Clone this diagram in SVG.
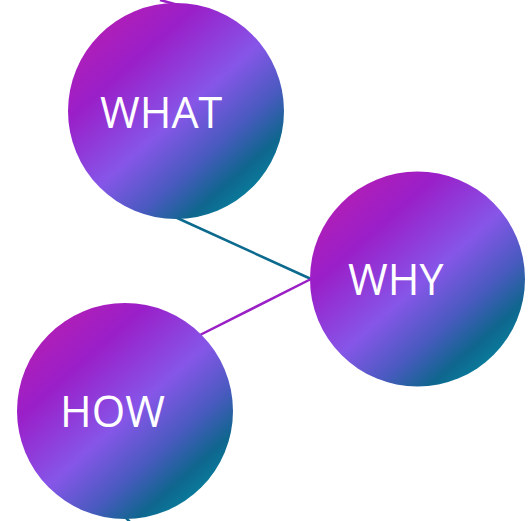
<svg xmlns="http://www.w3.org/2000/svg" width="532" height="521" viewBox="0 0 532 521">
<style>
.lbl{font-family:"Open Sans","Liberation Sans",sans-serif;font-size:43px;fill:#ffffff}
.teal{stroke:#0b6a8e;stroke-width:2.5;fill:none}
.purp{stroke:#9a1fc4;stroke-width:2.5;fill:none}
</style>
<defs>
<linearGradient id="g" x1="0.1" y1="0.05" x2="0.9" y2="0.95">
<stop offset="0" stop-color="#b81eb0"/>
<stop offset="0.25" stop-color="#9a1fc9"/>
<stop offset="0.52" stop-color="#8656e8"/>
<stop offset="0.7" stop-color="#4a5ac0"/>
<stop offset="0.84" stop-color="#0f668e"/>
<stop offset="1" stop-color="#0590a8"/>
</linearGradient>
</defs>
<g id="connectors">
<line class="purp" x1="160" y1="0" x2="182" y2="6"/>
<line class="teal" x1="175" y1="217" x2="311" y2="279"/>
<line class="purp" x1="311" y1="279" x2="198" y2="336"/>
<line class="teal" x1="124" y1="516" x2="130" y2="522"/>
</g>
<g id="what">
<circle cx="176" cy="111" r="108" fill="url(#g)"/>
<text class="lbl" x="100" y="128">WHAT</text>
</g>
<g id="why">
<circle cx="417.5" cy="279" r="107.5" fill="url(#g)"/>
<text class="lbl" x="348" y="295">WHY</text>
</g>
<g id="how">
<circle cx="125" cy="411" r="108" fill="url(#g)"/>
<text class="lbl" x="60" y="427">HOW</text>
</g>
</svg>
